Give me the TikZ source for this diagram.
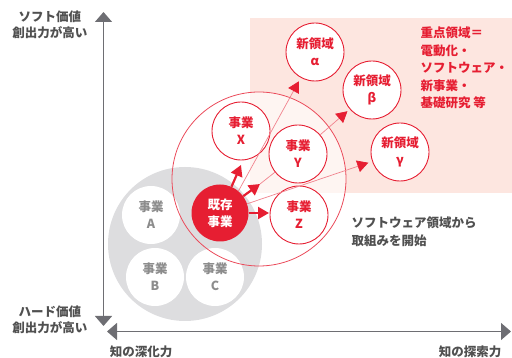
\documentclass[tikz,border=0pt]{standalone}
\usepackage{fontspec}
\setmainfont{Noto Sans CJK JP}
\usetikzlibrary{arrows.meta}
\definecolor{crimson}{RGB}{230,30,50}
\definecolor{blush}{RGB}{253,230,224}
\definecolor{mist}{RGB}{221,221,223}
\definecolor{slate}{RGB}{110,110,115}
\definecolor{ink}{RGB}{80,80,80}
\definecolor{ash}{RGB}{140,140,140}
\tikzset{
  biz/.style={circle,draw=#1,fill=white,line width=0.9pt,minimum size=58pt,inner sep=0pt,
    align=center,text=#1,font=\fontsize{12.5}{17}\selectfont\bfseries},
  biz/.default=crimson,
  old biz/.style={circle,fill=white,minimum size=58pt,inner sep=0pt,align=center,
    text=ash,font=\fontsize{12.5}{17}\selectfont\bfseries},
  core/.style={circle,fill=crimson,minimum size=57pt,inner sep=0pt,align=center,
    text=white,font=\fontsize{12.5}{17}\selectfont\bfseries},
  push/.style={-{Triangle[length=11pt,width=12pt]},line width=2.2pt,draw=crimson},
  reach/.style={-{Triangle[length=11pt,width=12pt,color=crimson]},line width=0.7pt,draw=crimson!55},
  axisline/.style={{Triangle[length=10pt,width=17pt]}-{Triangle[length=10pt,width=17pt]},
    line width=1.4pt,draw=slate,fill=slate},
  tag/.style={font=\fontsize{12.5}{16}\selectfont\bfseries,text=ink,align=center},
  memo/.style={font=\fontsize{12.5}{17.5}\selectfont\bfseries,text=#1,align=left,anchor=west},
  memo/.default=ink,
}

\begin{document}
\begin{tikzpicture}[x=1pt,y=-1pt]
  \useasboundingbox (0,0) rectangle (512,358);
  % focus area and circles behind the nodes
  \fill[blush] (250,18) rectangle (512,193);
  \fill[white,opacity=0.6] (259,179) circle (87);
  \fill[mist] (185,244) circle (77);

  \node[old biz] (bizA) at (151,215) {事業\\A};
  \node[old biz] (bizB) at (155,277) {事業\\B};
  \node[old biz] (bizC) at (215,277) {事業\\C};
  \draw[crimson!80,line width=0.8pt] (259,179) circle (87);

  \node[biz] (bizX) at (241,131) {事業\\X};
  \node[biz] (bizY) at (298,154) {事業\\Y};
  \node[biz] (bizZ) at (299,215) {事業\\Z};
  \node[biz] (alpha) at (315,52) {新領域\\α};
  \node[biz] (beta) at (372,90) {新領域\\β};
  \node[biz] (gamma) at (400,152) {新領域\\γ};
  \node[core] (exist) at (220,213) {既存\\事業};

  \coordinate (tipX) at (241,165);
  \coordinate (tipY) at (260,184);
  \coordinate (tipZ) at (269,213);
  \draw[reach,shorten >=4pt] (exist.50) -- (alpha);
  \draw[reach,shorten >=3pt] (bizY) -- (beta);
  \draw[reach,shorten >=4pt] (exist) -- (gamma);
  \draw[crimson!55,line width=0.7pt] (tipY) -- (bizY);
  \draw[push] (exist) -- (tipX);
  \draw[push] (exist) -- (tipY);
  \draw[push] (exist) -- (tipZ);

  \node[memo=crimson] (focus) at (417,68) {重点領域＝\\電動化・\\ソフトウェア・\\新事業・\\基礎研究 等};
  \node[memo] (start) at (348,232) {ソフトウェア領域から\\取組みを開始};

  % axes
  \coordinate (vtop) at (103.5,12);
  \coordinate (vbot) at (103.5,326);
  \coordinate (hleft) at (107,331.5);
  \coordinate (hright) at (511,331.5);
  \draw[axisline] (vbot) -- (vtop);
  \draw[axisline] (hleft) -- (hright);
  \node[tag] (soft) at (50,25) {ソフト価値\\創出力が高い};
  \node[tag] (hard) at (50,320) {ハード価値\\創出力が高い};
  \node[tag] (deep) at (141,352) {知の深化力};
  \node[tag] (wide) at (470,352) {知の探索力};
\end{tikzpicture}
\end{document}
